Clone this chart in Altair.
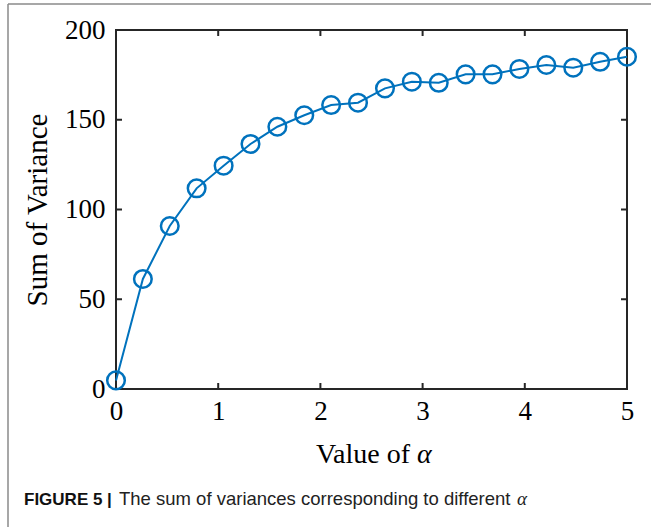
import altair as alt
import pandas as pd

# alpha values (x) and summed variance (y)
alpha_vals = [0.0, 0.263, 0.526, 0.789, 1.053, 1.316, 1.579, 1.842, 2.105, 2.368,
              2.632, 2.895, 3.158, 3.421, 3.684, 3.947, 4.211, 4.474, 4.737, 5.0]
variance_sum = [4.8, 61.3, 90.8, 111.8, 124.4, 136.5, 146.1, 152.5, 158.2, 159.5,
                167.5, 171.2, 170.6, 175.3, 175.3, 178.3, 180.5, 179.0, 182.3, 185.1]

x_ticks = [0, 1, 2, 3, 4, 5]
y_ticks = [0, 50, 100, 150, 200]

W, H = 511, 359
BLUE = "#0072BD"
AX = "#262626"
SERIF = "Liberation Serif"
SANS = "Liberation Sans"

df = pd.DataFrame({"alpha": alpha_vals, "var": variance_sum})
xt = pd.DataFrame({"t": x_ticks})
yt = pd.DataFrame({"t": y_ticks})

xs = alt.Scale(domain=[0, 5], nice=False, zero=False)
ys = alt.Scale(domain=[0, 200], nice=False)

x_axis = alt.Axis(values=x_ticks, format="d", ticks=False, domain=False, grid=False,
                  labelFont=SERIF, labelFontSize=27, labelColor="black",
                  labelPadding=9, labelFlush=False, title=None)
y_axis = alt.Axis(values=y_ticks, format="d", ticks=False, domain=False, grid=False,
                  labelFont=SERIF, labelFontSize=27, labelColor="black",
                  labelPadding=11, labelFlush=False,
                  title="Sum of Variance", titleFont=SERIF, titleFontSize=29,
                  titleFontWeight="normal", titleColor="black", titlePadding=12)

line = alt.Chart(df).mark_line(color=BLUE, strokeWidth=2).encode(
    x=alt.X("alpha:Q", scale=xs, axis=x_axis),
    y=alt.Y("var:Q", scale=ys, axis=y_axis),
)
pts = alt.Chart(df).mark_point(shape="circle", filled=False, color=BLUE,
                               size=310, strokeWidth=2.5, opacity=1).encode(
    x=alt.X("alpha:Q", scale=xs),
    y=alt.Y("var:Q", scale=ys),
)

# inward ticks on all four sides of the box
tick_style = dict(color=AX, strokeWidth=2)
TL = 6
tb = alt.Chart(xt).mark_rule(**tick_style).encode(
    x=alt.X("t:Q", scale=xs), y=alt.value(H), y2=alt.value(H - TL))
tt = alt.Chart(xt).mark_rule(**tick_style).encode(
    x=alt.X("t:Q", scale=xs), y=alt.value(0), y2=alt.value(TL))
tl = alt.Chart(yt).mark_rule(**tick_style).encode(
    y=alt.Y("t:Q", scale=ys), x=alt.value(0), x2=alt.value(TL))
tr = alt.Chart(yt).mark_rule(**tick_style).encode(
    y=alt.Y("t:Q", scale=ys), x=alt.value(W), x2=alt.value(W - TL))

# x-axis title with an italic alpha
XT_Y = 433
xlab = alt.Chart(pd.DataFrame({"s": ["Value of"]})).mark_text(
    font=SERIF, fontSize=28, align="right", baseline="alphabetic", color="black"
).encode(text="s:N", x=alt.value(294), y=alt.value(XT_Y))
xlab_a = alt.Chart(pd.DataFrame({"s": ["α"]})).mark_text(
    font=SERIF, fontSize=28, fontStyle="italic", align="left",
    baseline="alphabetic", color="black"
).encode(text="s:N", x=alt.value(301), y=alt.value(XT_Y))

# figure frame (top and left edges)
frame_top = alt.Chart(pd.DataFrame({"k": [0]})).mark_rule(color="#8a8a8a", strokeWidth=1.5).encode(
    x=alt.value(-108), x2=alt.value(W + 30), y=alt.value(-26))
frame_left = alt.Chart(pd.DataFrame({"k": [0]})).mark_rule(color="#8a8a8a", strokeWidth=1.5).encode(
    x=alt.value(-108), y=alt.value(-26), y2=alt.value(H + 140))

# caption
CAP_Y = 475
cap1 = alt.Chart(pd.DataFrame({"s": ["FIGURE 5 |"]})).mark_text(
    font=SANS, fontSize=17, fontWeight="bold", align="left", baseline="alphabetic", color="#111111"
).encode(text="s:N", x=alt.value(-92), y=alt.value(CAP_Y))
cap2 = alt.Chart(pd.DataFrame({"s": ["The sum of variances corresponding to different"]})).mark_text(
    font=SANS, fontSize=18.5, align="left", baseline="alphabetic", color="#222222"
).encode(text="s:N", x=alt.value(3), y=alt.value(CAP_Y))
cap3 = alt.Chart(pd.DataFrame({"s": ["α"]})).mark_text(
    font=SERIF, fontSize=19, fontStyle="italic", align="left", baseline="alphabetic", color="#222222"
).encode(text="s:N", x=alt.value(401), y=alt.value(CAP_Y))

chart = alt.layer(
    frame_top, frame_left, tb, tt, tl, tr, line, pts, xlab, xlab_a, cap1, cap2, cap3
).properties(
    width=W, height=H,
    autosize=alt.AutoSizeParams(type="none"),
    padding={"left": 116, "top": 30, "right": 24, "bottom": 138},
    background="white",
).configure_view(stroke=AX, strokeWidth=2)

chart.save("out.html", embed_options={"renderer": "svg", "actions": False})
